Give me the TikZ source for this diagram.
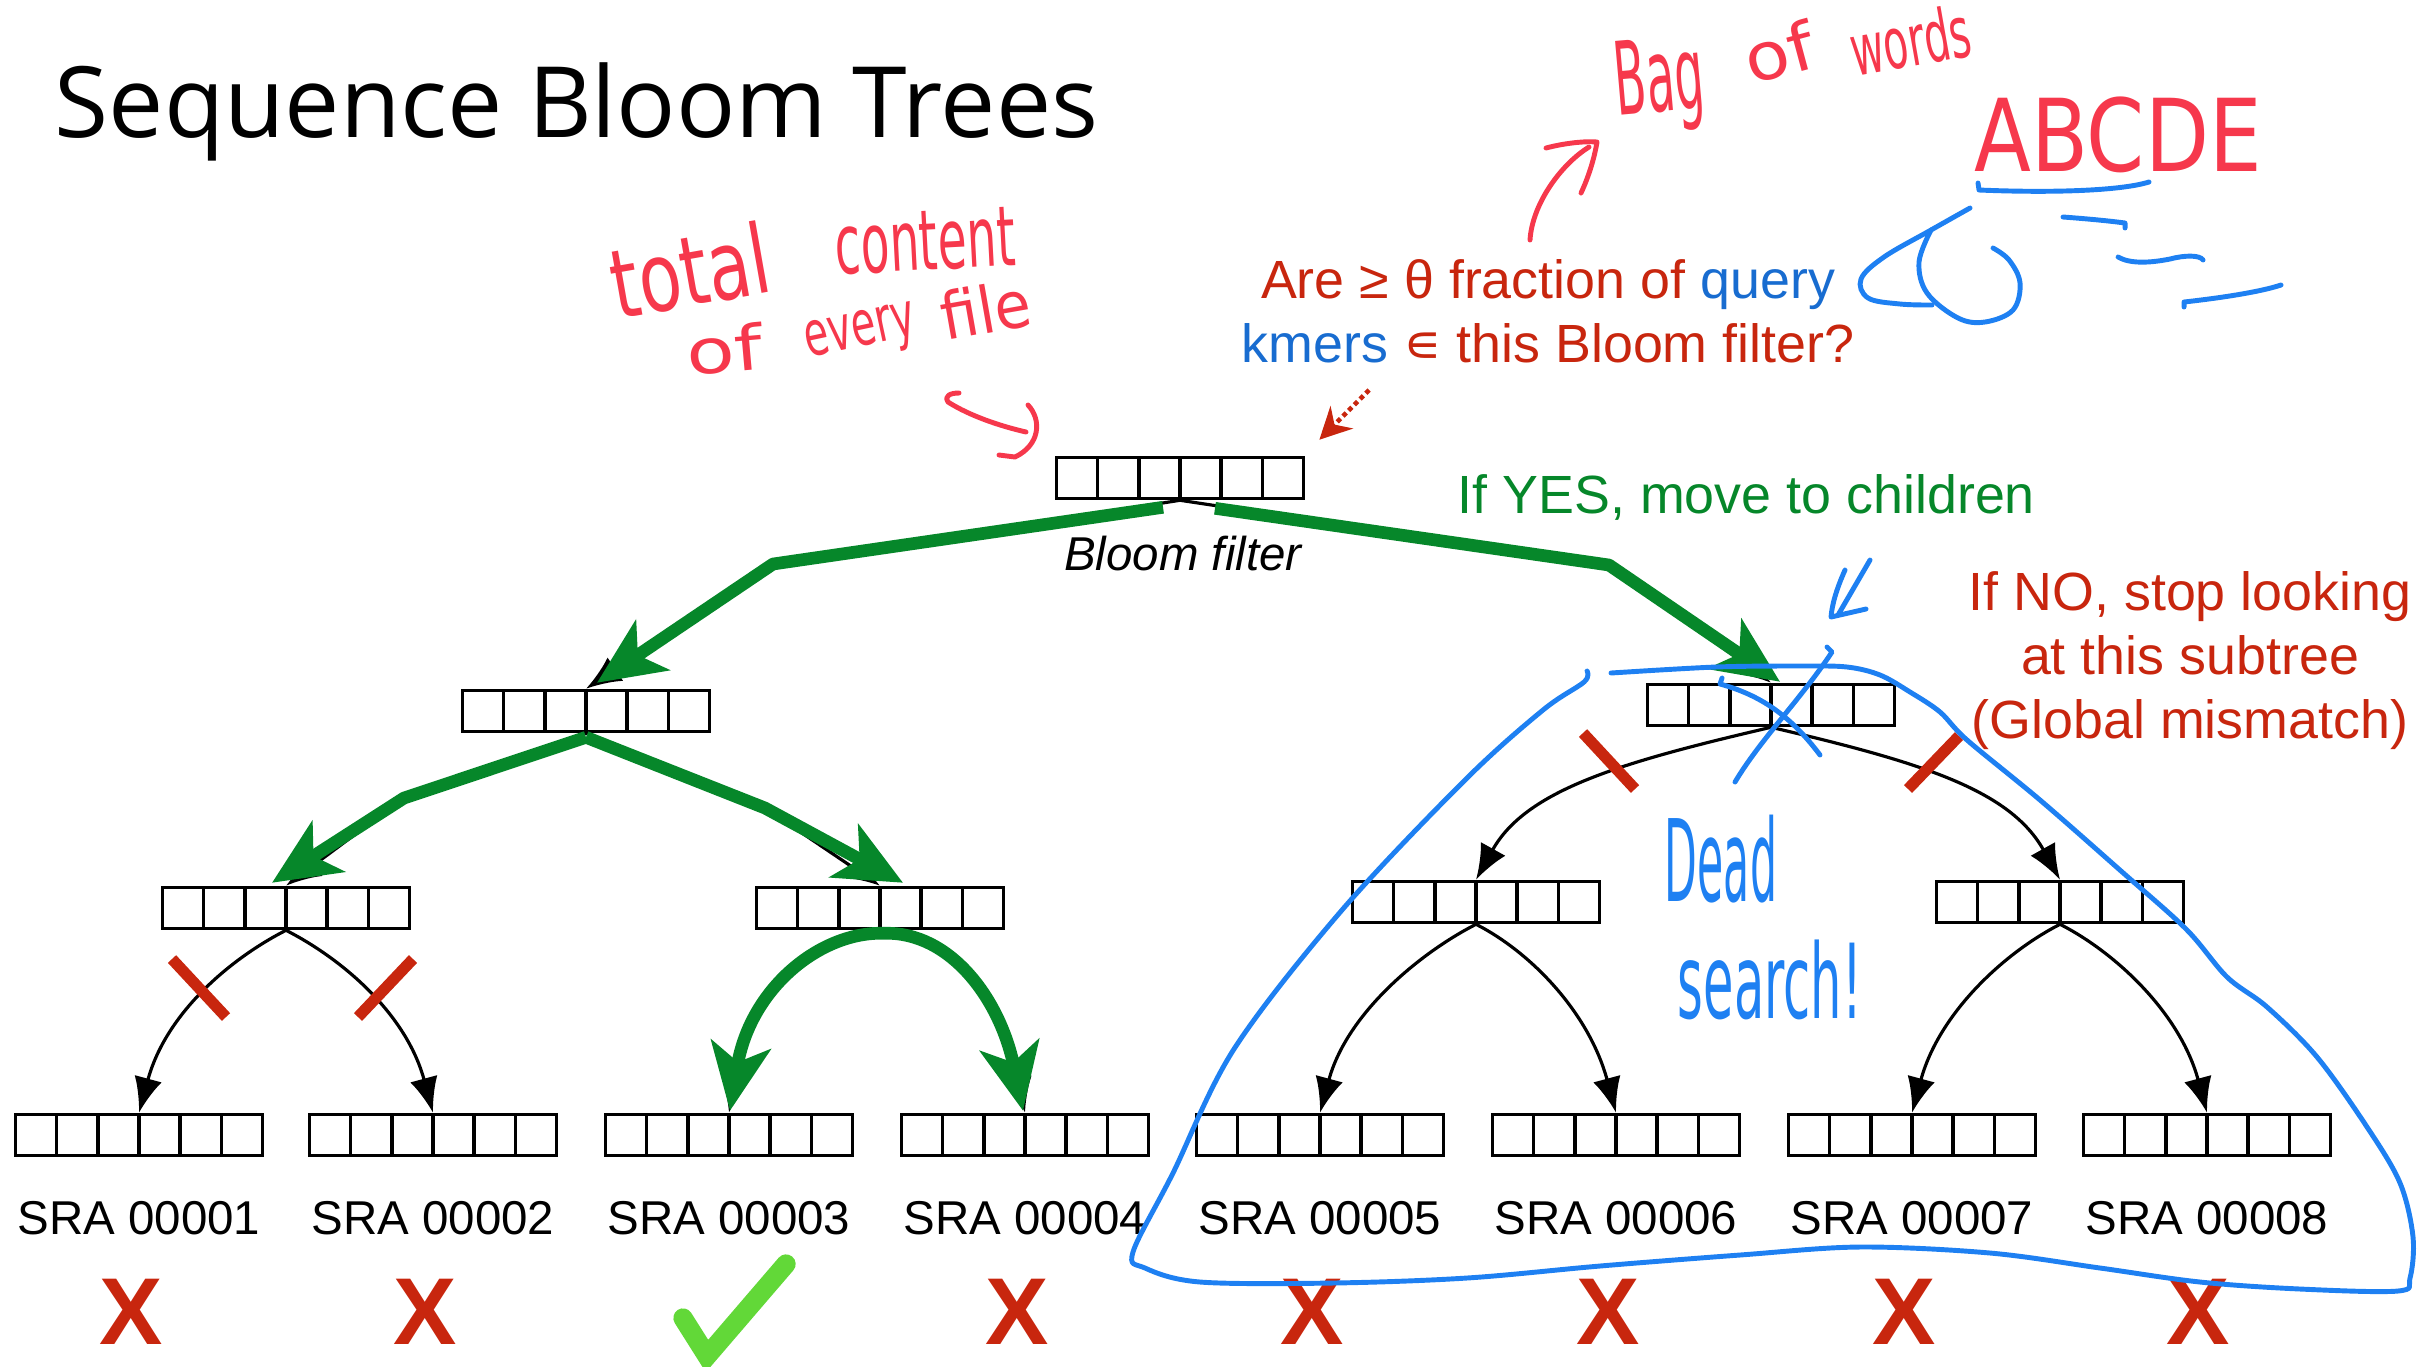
\documentclass[tikz,border=0pt]{standalone}
\usepackage{fontspec}
\setmainfont{Liberation Sans}
\newfontfamily\titlefont{Open Sans}
\newfontfamily\symfont{DejaVu Sans}
\newfontfamily\handfont{DejaVu Sans}
\usetikzlibrary{arrows.meta}

\definecolor{yesgreen}{RGB}{6,135,42}
\definecolor{nored}{RGB}{200,38,14}
\definecolor{qblue}{RGB}{24,108,208}
\definecolor{penred}{RGB}{246,56,76}
\definecolor{penblue}{RGB}{30,128,242}
\definecolor{tickgreen}{RGB}{98,216,56}

% pen notes: a word squeezed into a given box
\newcommand\scrawl[3]{\resizebox*{#1}{#2}{\handfont #3}}

\tikzset{
  bf/.style={draw, line width=1pt, inner sep=0pt,
    minimum width=2.47cm, minimum height=0.41cm,
    path picture={
      \foreach \k in {1,...,5}
        \draw[line width=1pt] ([xshift=\k*0.41167cm]path picture bounding box.south west)
          -- ([xshift=\k*0.41167cm]path picture bounding box.north west);
    }},
  branch/.style={line width=0.9pt, -{Latex[length=10pt,width=8pt]}},
  yes/.style={yesgreen, line width=3.6pt, line join=round,
    -{Stealth[length=19pt,width=17pt,inset=5pt]}},
  cutmark/.style={nored, line width=3.2pt},
  pen/.style={line width=1.4pt, line cap=round, line join=round},
  sra/.style={anchor=base, inner sep=0pt, font=\fontsize{13.5}{16}\selectfont},
  nomatch/.style={inner sep=0pt, text=nored, font=\bfseries\fontsize{27}{30}\selectfont},
  msg/.style={inner sep=0pt, font=\fontsize{15.3}{18.2}\selectfont},
  scribble/.style={inner sep=0pt},
}

\begin{document}
\begin{tikzpicture}[x=0.01cm, y=-0.01cm]
\useasboundingbox (0,0) rectangle (2419,1366);

\node[anchor=base west, inner sep=0pt, font=\titlefont\fontsize{28}{34}\selectfont] (title) at (54,137) {Sequence Bloom Trees};

% the tree of Bloom filters
\node[bf] (root) at (1180,478) {};
\node[bf] (l1a) at (586,711) {};
\node[bf] (l1b) at (1771,705) {};
\node[bf] (l2a) at (286,908) {};
\node[bf] (l2b) at (880,908) {};
\node[bf] (l2c) at (1476,902) {};
\node[bf] (l2d) at (2060,902) {};
\foreach \i/\x in {1/139,2/433,3/729,4/1025,5/1320,6/1616,7/1912,8/2207}{
  \node[bf] (f\i) at (\x,1135) {};
  \node[sra] (s\i) at (\x,1234) {SRA 0000\i};
}
\node[anchor=base, inner sep=0pt, font=\itshape\fontsize{13.5}{16}\selectfont] (bflabel) at (1183,570) {Bloom filter};

% bends of the traced paths
\coordinate (rA) at (773,564);
\coordinate (rB) at (1609,565);
\coordinate (aA) at (404,798);
\coordinate (aB) at (765,808);

% plain edges
\draw[branch] (root.south) -- (rA) -- (l1a.north);
\draw[branch] (root.south) -- (rB) -- (l1b.north);
\draw[branch] (l1a.south) -- (aA) -- (l2a.north);
\draw[branch] (l1a.south) -- (aB) -- (l2b.north);
\draw[branch] (l2b.south) .. controls +(-64,-2) and +(20,-122) .. (f3.north);
\draw[branch] (l2b.south) .. controls +(70,-2) and +(-23,-112) .. (f4.north);
\draw[branch] (l1b.south) .. controls +(-150,35) and +(50,-90) .. (l2c.north);
\draw[branch] (l1b.south) .. controls +(150,35) and +(-50,-90) .. (l2d.north);
\foreach \p/\a/\b in {l2a/f1/f2, l2c/f5/f6, l2d/f7/f8}{
  \draw[branch] (\p.south) .. controls +(-55,28) and +(27,-100) .. (\a.north);
  \draw[branch] (\p.south) .. controls +(55,28) and +(-27,-100) .. (\b.north);
}

% the search path that is followed
\draw[yes] ([shift={(-17,7)}]root.south) -- (rA) -- ([shift={(11,-6)}]l1a.north);
\draw[yes] ([shift={(35,8)}]root.south) -- (rB) -- ([shift={(9,-1)}]l1b.north);
\draw[yes] ([shift={(0,4)}]l1a.south) -- (aA) -- ([shift={(-14,-3)}]l2a.north);
\draw[yes] ([shift={(0,4)}]l1a.south) -- (aB) -- ([shift={(23,-3)}]l2b.north);
\draw[yes] ([shift={(4,3)}]l2b.south) .. controls +(-64,-2) and +(20,-122) .. ([shift={(1,-2)}]f3.north);
\draw[yes] ([shift={(4,3)}]l2b.south) .. controls +(66,-2) and +(-23,-112) .. ([shift={(-2,-2)}]f4.north);

% cut branches
\draw[cutmark] (172,959) -- (226,1017);
\draw[cutmark] (413,959) -- (358,1017);
\draw[cutmark] (1583,733) -- (1635,789);
\draw[cutmark] (1959,736) -- (1908,789);

% results
\foreach \i/\x in {1/131,2/425,4/1017,5/1312,6/1608,7/1904,8/2198}
  \node[nomatch] (x\i) at (\x,1312) {X};
\draw[tickgreen, line width=5.5pt, line cap=round] (683,1318) -- (707,1356) -- (786,1264);

% question and rules
\node[msg, anchor=base, text=nored] (ask1) at (1548,298) {Are ≥ θ fraction of \textcolor{qblue}{query}};
\node[msg, anchor=base, text=nored] (ask2) at (1548,362) {\textcolor{qblue}{kmers} {\symfont ∊} this Bloom filter?};
\draw[nored, line width=1.3pt, densely dotted, -{Stealth[length=9pt,width=9pt]}] (1369,390) -- ([shift={(14,-16)}]root.north east);
\node[msg, anchor=base west, text=yesgreen] (ifyes) at (1457,513) {If YES, move to children};
\node[msg, anchor=base, text=nored, align=center] (ifno) at (2190,738) {If NO, stop looking\\at this subtree\\(Global mismatch)};

% red pen notes
\node[scribble, text=penred, rotate=10] (hw1) at (690,270) {\scrawl{1.60cm}{0.74cm}{total}};
\node[scribble, text=penred, rotate=3] (hw2) at (925,241) {\scrawl{1.80cm}{0.60cm}{content}};
\node[scribble, text=penred, rotate=5] (hw3) at (724,349) {\scrawl{0.76cm}{0.48cm}{of}};
\node[scribble, text=penred, rotate=12] (hw4) at (861,335) {\scrawl{1.12cm}{0.48cm}{every}};
\node[scribble, text=penred, rotate=10] (hw5) at (986,309) {\scrawl{0.90cm}{0.50cm}{file}};
\node[scribble, text=penred, rotate=5] (hw6) at (1660,85) {\scrawl{0.89cm}{0.95cm}{Bag}};
\node[scribble, text=penred, rotate=15] (hw7) at (1779,52) {\scrawl{0.70cm}{0.51cm}{of}};
\node[scribble, text=penred, rotate=10] (hw8) at (1910,40) {\scrawl{1.21cm}{0.55cm}{words}};
\node[scribble, text=penred] (hw9) at (2118,135) {\scrawl{2.87cm}{0.76cm}{ABCDE}};
\draw[pen, penred] (959,393) .. controls (950,393) and (944,396) .. (948,402)
  .. controls (970,416) and (1000,426) .. (1026,432);
\draw[pen, penred] (1028,405) .. controls (1042,420) and (1040,445) .. (1015,457) -- (999,455);
\draw[pen, penred] (1530,240) .. controls (1532,205) and (1560,165) .. (1589,147);
\draw[pen, penred] (1546,148) .. controls (1565,143) and (1585,141) .. (1597,142)
  .. controls (1594,160) and (1588,178) .. (1581,193);

% blue pen notes
\draw[pen, penblue] (1978,183) -- (1979,190) .. controls (2050,193) and (2120,191) .. (2149,182);
\draw[pen, penblue] (2063,217) .. controls (2090,219) and (2110,221) .. (2125,223) -- (2125,228);
\draw[pen, penblue] (2118,257) .. controls (2130,264) and (2150,263) .. (2170,259)
  .. controls (2185,255) and (2200,255) .. (2203,260);
\draw[pen, penblue] (2184,307) -- (2184,302) .. controls (2220,298) and (2260,292) .. (2281,285);
\draw[pen, penblue] plot[smooth, tension=0.6] coordinates {(1970,208) (1931,230) (1884,257) (1861,279) (1868,298) (1900,304) (1932,305)};
\draw[pen, penblue] plot[smooth, tension=0.6] coordinates {(1931,230) (1919,262) (1927,293) (1958,318) (1985,322) (2013,310) (2020,283) (2009,260) (1993,248)};
\draw[pen, penblue] (1870,560) -- (1838,615);
\draw[pen, penblue] (1845,570) .. controls (1836,590) and (1832,605) .. (1831,617) -- (1866,609);
\draw[pen, penblue] (1827,647) -- (1832,652) .. controls (1800,700) and (1760,740) .. (1735,782);
\draw[pen, penblue] (1722,678) -- (1720,684) .. controls (1760,695) and (1790,715) .. (1820,755);
\draw[pen, penblue] plot[smooth, tension=0.55] coordinates {(1611,673) (1716,667) (1800,666) (1847,667) (1880,675) (1910,692) (1940,712) (1967,740) (2040,800) (2121,871) (2186,929) (2227,977) (2267,1007) (2317,1057) (2367,1127) (2400,1183) (2413,1237) (2410,1278) (2398,1291) (2300,1289) (2200,1282) (2100,1268) (1990,1253) (1860,1247) (1740,1255) (1600,1266) (1467,1278) (1333,1283) (1200,1282) (1145,1268) (1133,1252) (1173,1173) (1234,1049) (1342,910) (1466,779) (1543,710) (1584,682) (1587,671)};
\node[scribble, text=penblue] (hw10) at (1721,859) {\scrawl{1.12cm}{0.88cm}{Dead}};
\node[scribble, text=penblue] (hw11) at (1770,980) {\scrawl{1.84cm}{0.80cm}{search!}};
\end{tikzpicture}
\end{document}
